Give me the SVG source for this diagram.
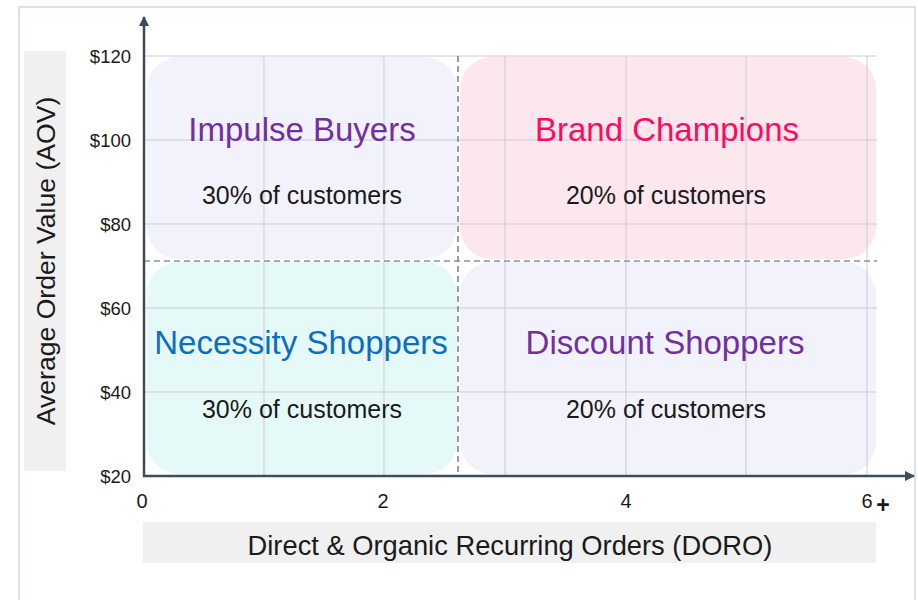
<svg xmlns="http://www.w3.org/2000/svg" width="918" height="600" viewBox="0 0 918 600">
  <style>
    text { font-family: "Liberation Sans", Arial, Helvetica, sans-serif; }
    .grid { stroke: #cbcbd2; stroke-width: 1; fill: none; }
    .tick { font-size: 18.5px; fill: #1a1a1a; }
    .xtick { font-size: 20px; fill: #1a1a1a; }
    .title { font-size: 33px; text-anchor: middle; }
    .share { font-size: 25px; text-anchor: middle; fill: #1a1a1a; }
    .axis { stroke: #3e4b5c; stroke-width: 2.5; fill: none; }
    .band { fill: #f0f0f0; }
    .axis-title { font-size: 27.3px; fill: #1a1a1a; text-anchor: middle; }
  </style>
  <defs>
    <marker id="arrow" viewBox="0 0 10 10" refX="9" refY="5" markerWidth="4" markerHeight="4" orient="auto" markerUnits="strokeWidth">
      <path d="M0,0 L10,5 L0,10 z" fill="#3e4b5c"/>
    </marker>
  </defs>

  <!-- frame -->
  <rect x="19" y="7" width="896" height="610" fill="#ffffff" stroke="#dbe2e2" stroke-width="2"/>

  <!-- axis title bands -->
  <rect class="band" x="24" y="51" width="42" height="420"/>
  <rect class="band" x="143" y="522" width="733" height="41"/>
  <text class="axis-title" transform="translate(55,261) rotate(-90)" style="font-size:26.6px">Average Order Value (AOV)</text>
  <text class="axis-title" x="510" y="555">Direct &amp; Organic Recurring Orders (DORO)</text>

  <!-- quadrants -->
  <g id="impulse-buyers">
    <rect x="147" y="57" width="310" height="202" rx="32" fill="#f2f2fc"/>
  </g>
  <g id="brand-champions">
    <rect x="460" y="57" width="416" height="202" rx="32" fill="#fde7ee"/>
  </g>
  <g id="necessity-shoppers">
    <rect x="147" y="262" width="310" height="212" rx="32" fill="#e5faf8"/>
  </g>
  <g id="discount-shoppers">
    <rect x="460" y="262" width="416" height="212" rx="32" fill="#f2f2fc"/>
  </g>

  <!-- grid -->
  <g id="grid">
    <path class="grid" d="M144,56 H877 M144,140 H877 M144,224 H877 M144,308 H877 M144,392 H877"/>
    <path class="grid" d="M264,56 V476 M384,56 V476 M505,56 V476 M626,56 V476 M746,56 V476 M867,56 V476"/>
  </g>

  <!-- quadrant labels -->
  <g id="impulse-buyers-label">
    <text class="title" x="302" y="141" fill="#7030a0">Impulse Buyers</text>
    <text class="share" x="302" y="204">30% of customers</text>
  </g>
  <g id="brand-champions-label">
    <text class="title" x="667" y="141" fill="#ff0a5e">Brand Champions</text>
    <text class="share" x="666" y="204">20% of customers</text>
  </g>
  <g id="necessity-shoppers-label">
    <text class="title" x="301" y="354" fill="#0a6fc2">Necessity Shoppers</text>
    <text class="share" x="302" y="418">30% of customers</text>
  </g>
  <g id="discount-shoppers-label">
    <text class="title" x="665" y="354" fill="#7030a0">Discount Shoppers</text>
    <text class="share" x="666" y="418">20% of customers</text>
  </g>

  <!-- dividers and axes -->
  <g id="connectors">
    <line x1="458" y1="56" x2="458" y2="476" stroke="#545d6c" stroke-width="1.2" stroke-dasharray="6,4"/>
    <line x1="144" y1="261" x2="877" y2="261" stroke="#8c929b" stroke-width="1.5" stroke-dasharray="6,4"/>
    <line class="axis" x1="144" y1="477" x2="144" y2="17" marker-end="url(#arrow)"/>
    <line class="axis" x1="143" y1="476" x2="914" y2="476" marker-end="url(#arrow)"/>
  </g>

  <!-- tick labels -->
  <g id="y-ticks" text-anchor="end">
    <text class="tick" x="131" y="62.5">$120</text>
    <text class="tick" x="131" y="146.5">$100</text>
    <text class="tick" x="131" y="230.5">$80</text>
    <text class="tick" x="131" y="314.5">$60</text>
    <text class="tick" x="131" y="398.5">$40</text>
    <text class="tick" x="131" y="482.5">$20</text>
  </g>
  <g id="x-ticks" text-anchor="middle">
    <text class="xtick" x="142" y="508">0</text>
    <text class="xtick" x="383" y="508">2</text>
    <text class="xtick" x="626" y="508">4</text>
    <text class="xtick" x="867" y="508">6</text>
    <text x="883" y="513" font-size="23" font-weight="bold" fill="#1a1a1a">+</text>
  </g>
</svg>
